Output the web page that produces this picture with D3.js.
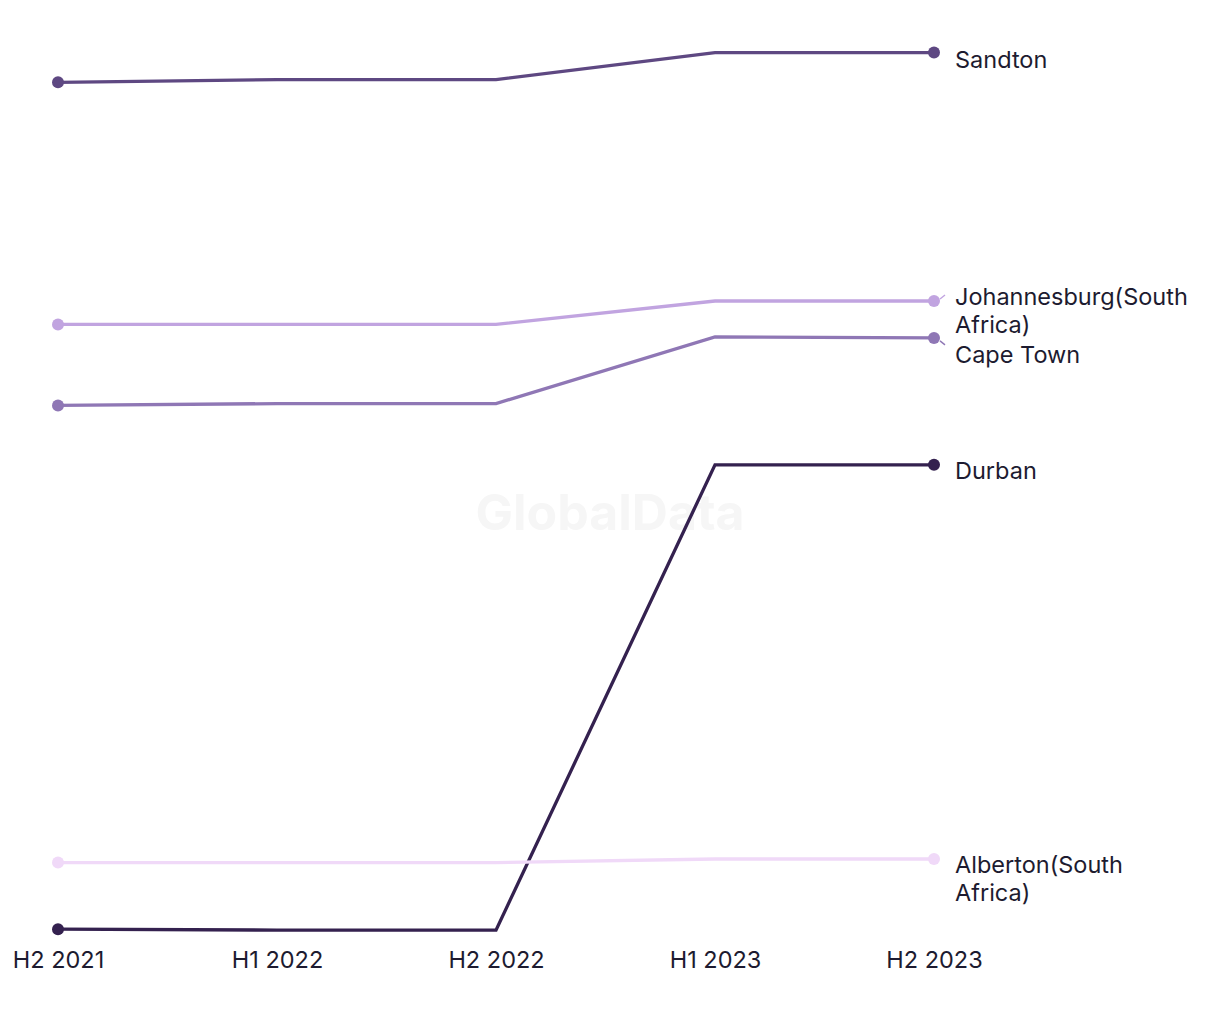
<!DOCTYPE html>
<html>
<head>
<meta charset="utf-8">
<script src="https://cdn.jsdelivr.net/npm/d3@7"></script>
<style>
  body { margin: 0; background: #fff; }
  text { font-family: Inter, "Noto Sans", sans-serif; }
</style>
</head>
<body>
<script>
var periods = ["H2 2021", "H1 2022", "H2 2022", "H1 2023", "H2 2023"];

var cities = ["Sandton", "Johannesburg(South Africa)", "Cape Town", "Durban", "Alberton(South Africa)"];

var sandton = [95.3, 95.6, 95.6, 98.6, 98.6];
var johannesburg = [68.4, 68.4, 68.4, 71.0, 71.0];
var capeTown = [59.4, 59.6, 59.6, 67.0, 66.9];
var durban = [1.2, 1.1, 1.1, 52.8, 52.8];
var alberton = [8.6, 8.6, 8.6, 9.0, 9.0];

var colors = ["#5e4882", "#c1a4e0", "#8f77b5", "#34214f", "#f0d9f8"];

var seriesList = [sandton, johannesburg, capeTown, durban, alberton];

// label lines and offsets (px) to keep labels from colliding
var labelLines = [["Sandton"], ["Johannesburg(South", "Africa)"], ["Cape Town"], ["Durban"], ["Alberton(South", "Africa)"]];
var labelShift = [7, -4, 17, 6, 6];

var width = 1220, height = 1020;
var margin = {left: 58, right: 286, top: 40, bottom: 90};

var svg = d3.select("body").append("svg")
    .attr("width", width)
    .attr("height", height);

var x = d3.scalePoint()
    .domain(periods)
    .range([margin.left, width - margin.right]);

var y = d3.scaleLinear()
    .domain([0, 100])
    .range([940, 40]);

// watermark
svg.append("text")
    .attr("x", 610)
    .attr("y", 530)
    .attr("text-anchor", "middle")
    .style("font-size", "50px")
    .style("font-weight", "bold")
    .style("fill", "#f6f6f6")
    .text("GlobalData");

var line = d3.line()
    .x(function(d, i) { return x(periods[i]); })
    .y(function(d) { return y(d); });

seriesList.forEach(function(s, k) {
  svg.append("path")
    .datum(s)
    .attr("d", line)
    .style("fill", "none")
    .style("stroke", colors[k])
    .style("stroke-width", 3.3);

  svg.append("circle")
    .attr("cx", x(periods[0]))
    .attr("cy", y(s[0]))
    .attr("r", 6)
    .style("fill", colors[k]);

  var lx = x(periods[periods.length - 1]);
  var ly = y(s[s.length - 1]);
  svg.append("circle")
    .attr("cx", lx)
    .attr("cy", ly)
    .attr("r", 6)
    .style("fill", colors[k]);

  var ty = ly + labelShift[k];
  if (Math.abs(labelShift[k]) > 8) {
    svg.append("line")
      .attr("x1", lx + 6).attr("y1", ly + 3)
      .attr("x2", lx + 11).attr("y2", ly + 7)
      .style("stroke", colors[k])
      .style("stroke-width", 1.5);
  }
  if (labelShift[k] < 0) {
    svg.append("line")
      .attr("x1", lx + 6).attr("y1", ly - 2)
      .attr("x2", lx + 11).attr("y2", ly - 6)
      .style("stroke", colors[k])
      .style("stroke-width", 1.5);
  }

  var t = svg.append("text")
    .attr("x", lx + 21)
    .attr("y", ty + 8)
    .style("font-size", "23.5px")
    .style("fill", "#1d1b30");
  labelLines[k].forEach(function(l, j) {
    t.append("tspan")
      .attr("x", lx + 21)
      .attr("dy", j === 0 ? 0 : 28)
      .text(l);
  });
});

var xAxis = d3.axisBottom(x).tickSize(0).tickPadding(0);
var gx = svg.append("g")
    .attr("transform", "translate(0,951)")
    .call(xAxis);
gx.select(".domain").remove();
gx.selectAll("text")
    .style("font-family", "Inter, 'Noto Sans', sans-serif")
    .style("font-size", "23.5px")
    .style("fill", "#1d1b30")
    .attr("dy", "0.71em");
</script>
</body>
</html>
